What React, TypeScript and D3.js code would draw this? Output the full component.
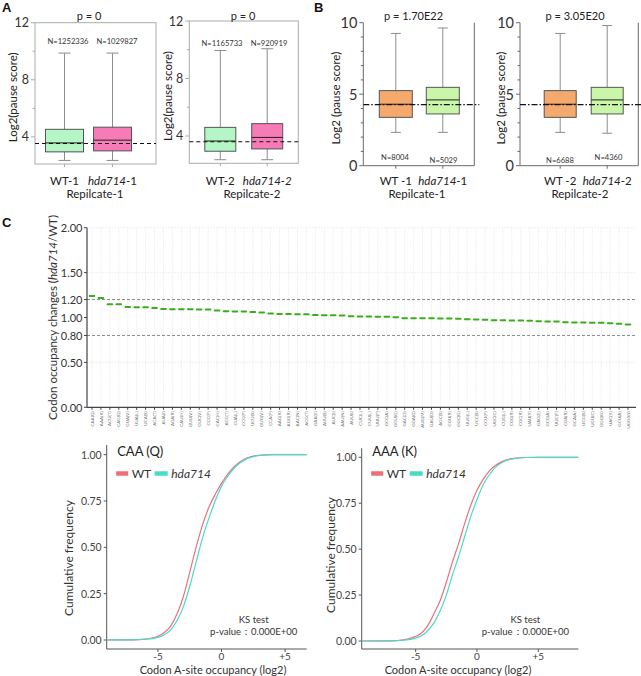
import React from "react";
import * as d3 from "d3";

const FONT = "Lato, 'Open Sans', 'Liberation Sans', Arial, sans-serif";

type Part = [string, boolean];

// ---------------- Panel A data ----------------
const aRep1Groups = ["WT-1", "hda714-1"];
const aRep1Labels: Part[][] = [[["WT-1", false]], [["hda714", true], ["-1", false]]];
const aRep1Stats = [
  [2.35, 2.95, 3.58, 4.53, 9.87],
  [2.35, 3.02, 3.77, 4.68, 9.87],
];
const aRep1N = ["N=1252336", "N=1029827"];
const aRep1Ref = 3.54;

const aRep2Groups = ["WT-2", "hda714-2"];
const aRep2Labels: Part[][] = [[["WT-2", false]], [["hda714-2", true]]];
const aRep2Stats = [
  [2.35, 2.94, 3.65, 4.6, 9.95],
  [2.35, 3.1, 3.9, 4.86, 10.07],
];
const aRep2N = ["N=1165733", "N=920919"];
const aRep2Ref = 3.6;

const aTicks = [4, 8, 12];
const aMinorTicks = [6, 10];

// ---------------- Panel B data ----------------
const bRep1Groups = ["WT -1", "hda714-1"];
const bRep1Labels: Part[][] = [[["WT -1", false]], [["hda714", true], ["-1", false]]];
const bRep1Stats = [
  [2.33, 3.38, 4.3, 5.25, 9.25],
  [2.33, 3.62, 4.6, 5.48, 9.63],
];
const bRep1N = ["N=8004", "N=5029"];
const bRep1Ref = 4.27;

const bRep2Groups = ["WT -2", "hda714-2"];
const bRep2Labels: Part[][] = [[["WT -2", false]], [["hda714", true], ["-2", false]]];
const bRep2Stats = [
  [2.33, 3.38, 4.3, 5.25, 9.25],
  [2.27, 3.62, 4.6, 5.48, 9.8],
];
const bRep2N = ["N=6688", "N=4360"];
const bRep2Ref = 4.27;

const bTicks = [0, 5, 10];
const bMinorTicks = [1, 2, 3, 4, 6, 7, 8, 9];

// ---------------- Panel C data ----------------
const codons = [
  "CAA(Q)", "AAA(K)", "ACU(T)", "CAG(Q)", "GUA(V)", "UUA(L)", "UCA(S)", "ACA(T)", "AUA(I)", "AGA(R)",
  "CAU(H)", "GUU(V)", "GUC(V)", "CCC(P)", "CAC(H)", "ACC(T)", "CUA(L)", "CCG(P)", "UCU(S)", "GUG(V)",
  "CCA(P)", "AAG(K)", "AGG(R)", "AAC(N)", "ACG(T)", "GAA(E)", "AGU(S)", "AUC(I)", "AAU(N)", "AUU(I)",
  "CUC(L)", "CUU(L)", "UUU(F)", "GCC(A)", "GGU(G)", "GAC(D)", "GGA(G)", "AUG(M)", "GAU(D)", "AGC(S)",
  "CGU(R)", "GGC(G)", "UUG(L)", "UCC(S)", "CCU(P)", "UGC(C)", "CUG(L)", "CGG(R)", "CGC(R)", "UAU(Y)",
  "GAG(E)", "GCG(A)", "UUC(F)", "CGA(R)", "GCA(A)", "UCG(S)", "UGU(C)", "GGG(G)", "UAC(Y)", "GCU(A)",
  "UGG(W)",
];
const codonChange = [
  1.239, 1.217, 1.147, 1.147, 1.118, 1.114, 1.114, 1.107, 1.096, 1.092,
  1.092, 1.092, 1.088, 1.088, 1.077, 1.07, 1.066, 1.066, 1.062, 1.055,
  1.044, 1.04, 1.04, 1.036, 1.036, 1.029, 1.025, 1.025, 1.022, 1.014,
  1.011, 1.011, 1.007, 1.007, 1.003, 0.992, 0.992, 0.992, 0.992, 0.989,
  0.989, 0.985, 0.981, 0.978, 0.974, 0.97, 0.97, 0.967, 0.967, 0.963,
  0.959, 0.956, 0.956, 0.948, 0.945, 0.945, 0.941, 0.941, 0.937, 0.93,
  0.922,
];
const cTicks = [0, 0.5, 0.8, 1.0, 1.2, 1.5, 2.0];
const cGridTicks = [0.5, 1.5, 2.0];
const cRefLines = [0.8, 1.2];

// ---------------- CDF data ----------------
const caaX = [-9.03, -7, -6, -5, -4.5, -4, -3.5, -3, -2.5, -2, -1.5, -1, -0.5, 0, 0.5, 1, 1.5, 2, 2.5, 3, 4, 5, 6.7];
const caaWT = [0, 0.001, 0.005, 0.02, 0.04, 0.075, 0.14, 0.235, 0.365, 0.5, 0.62, 0.715, 0.785, 0.845, 0.895, 0.935, 0.963, 0.982, 0.992, 0.997, 1, 1, 1];
const caaMut = [0, 0.001, 0.004, 0.014, 0.028, 0.055, 0.105, 0.18, 0.29, 0.42, 0.55, 0.655, 0.75, 0.83, 0.885, 0.928, 0.958, 0.979, 0.99, 0.996, 1, 1, 1];

const aaaX = [-9.4, -7, -6, -5, -4.5, -4, -3.5, -3, -2.5, -2, -1.5, -1, -0.5, 0, 0.5, 1, 1.5, 2, 2.5, 3, 4, 5, 8.26];
const aaaWT = [0, 0.001, 0.006, 0.025, 0.045, 0.085, 0.15, 0.22, 0.32, 0.43, 0.53, 0.64, 0.74, 0.82, 0.88, 0.925, 0.955, 0.975, 0.987, 0.994, 0.999, 1, 1];
const aaaMut = [0, 0.001, 0.004, 0.016, 0.03, 0.057, 0.1, 0.165, 0.25, 0.36, 0.46, 0.57, 0.68, 0.77, 0.85, 0.905, 0.945, 0.97, 0.985, 0.993, 0.999, 1, 1];

const cdfYTicks = [0, 0.25, 0.5, 0.75, 1];
const cdfYTickLabels = ["0.00", "0.25", "0.50", "0.75", "1.00"];
const cdfXTicks = [-5, 0, 5];
const cdfXTickLabels = ["-5", "0", "+5"];

const renderParts = (parts: Part[]) =>
  parts.map(([t, it], i) => (
    <tspan key={i} fontStyle={it ? "italic" : "normal"}>
      {t}
    </tspan>
  ));

type Frame = { left: number; right: number; top: number; bottom: number };

function BoxPanel(props: any) {
  const {
    groups, labels, stats, ns, refValue, pText, pX, repText, repX, frame, domain, ticks, minor,
    centers, boxW, capW, variant, fills, yLabel, yLabelX, nX, nY, tickFont,
  } = props;
  const f: Frame = frame;
  const y = d3.scaleLinear().domain(domain).range([f.bottom, f.top]);
  const x = d3.scalePoint<string>().domain(groups).range(centers);
  const isA = variant === "A";
  const axisColor = isA ? "#a5b0a7" : "#6a6a6a";
  const whiskerColor = "#8c8c8c";
  return (
    <g fontFamily={FONT}>
      {isA ? (
        <rect x={f.left} y={f.top} width={f.right - f.left} height={f.bottom - f.top} fill="none" stroke={axisColor} strokeWidth={1} />
      ) : (
        <path d={`M${f.left},${f.top}V${f.bottom}H${f.right}V${f.top}`} fill="none" stroke={axisColor} strokeWidth={1} />
      )}
      {ticks.map((t: number) => (
        <g key={"t" + t}>
          <line x1={f.left - 4} x2={f.left} y1={y(t)} y2={y(t)} stroke={axisColor} />
          <text x={f.left - 6} y={y(t)} textAnchor="end" dominantBaseline="central" fontSize={tickFont} fill="#333">
            {t}
          </text>
        </g>
      ))}
      {minor.map((t: number) => (
        <line key={"m" + t} x1={f.left - 2.5} x2={f.left} y1={y(t)} y2={y(t)} stroke={axisColor} />
      ))}
      {groups.map((g: string, i: number) => {
        const cx = x(g) as number;
        const [mn, q1, md, q3, mx] = stats[i];
        return (
          <g key={g}>
            <line x1={cx} x2={cx} y1={y(mx)} y2={y(q3)} stroke={whiskerColor} />
            <line x1={cx} x2={cx} y1={y(q1)} y2={y(mn)} stroke={whiskerColor} />
            <line x1={cx - capW / 2} x2={cx + capW / 2} y1={y(mx)} y2={y(mx)} stroke={whiskerColor} />
            <line x1={cx - capW / 2} x2={cx + capW / 2} y1={y(mn)} y2={y(mn)} stroke={whiskerColor} />
            <rect x={cx - boxW / 2} y={y(q3)} width={boxW} height={y(q1) - y(q3)} fill={fills[i]} stroke="#555" strokeWidth={1} />
            <line x1={cx - boxW / 2} x2={cx + boxW / 2} y1={y(md)} y2={y(md)} stroke="#222" strokeWidth={1} />
            <line x1={cx} x2={cx} y1={f.bottom} y2={f.bottom + 3} stroke={axisColor} />
            <text x={cx} y={180} textAnchor="middle" dominantBaseline="central" fontSize={11.5} fill="#222">
              {renderParts(labels[i])}
            </text>
            <text x={nX[i]} y={nY[i]} textAnchor="middle" dominantBaseline="central" fontSize={7.6} fill="#333">
              {ns[i]}
            </text>
          </g>
        );
      })}
      <line
        x1={f.left}
        x2={isA ? f.right : f.right + 5}
        y1={y(refValue)}
        y2={y(refValue)}
        stroke="#111"
        strokeWidth={1.1}
        strokeDasharray={isA ? "4,3" : "6,2,1.5,2"}
      />
      <text x={pX} y={15} textAnchor="middle" dominantBaseline="central" fontSize={11} fill="#222">
        {pText}
      </text>
      <text x={repX} y={193.5} textAnchor="middle" dominantBaseline="central" fontSize={11.5} fill="#222">
        {repText}
      </text>
      <text
        transform={`translate(${yLabelX},${(f.top + f.bottom) / 2 + 4}) rotate(-90)`}
        textAnchor="middle"
        dominantBaseline="central"
        fontSize={11.5}
        fill="#222"
      >
        {yLabel}
      </text>
    </g>
  );
}

function CodonPanel() {
  const y = d3.scaleLinear().domain([0, 2]).range([407.3, 227.7]);
  const x = d3.scalePoint<string>().domain(codons).range([92, 628]);
  const left = 87;
  const right = 636;
  return (
    <g fontFamily={FONT}>
      {codons.map((c) => (
        <line key={"g" + c} x1={x(c)} x2={x(c)} y1={y(2)} y2={y(0)} stroke="#ececec" strokeWidth={0.8} strokeDasharray="2,1" />
      ))}
      {cGridTicks.map((t) => (
        <line key={"h" + t} x1={left} x2={right} y1={y(t)} y2={y(t)} stroke="#ececec" strokeWidth={0.8} strokeDasharray="2,1" />
      ))}
      {cRefLines.map((t) => (
        <line key={"r" + t} x1={left} x2={right} y1={y(t)} y2={y(t)} stroke="#8a8a8a" strokeWidth={1} strokeDasharray="3,2" />
      ))}
      <line x1={left} x2={left} y1={y(2)} y2={y(0)} stroke="#444" strokeWidth={1.2} />
      <line x1={left} x2={right} y1={y(0)} y2={y(0)} stroke="#444" strokeWidth={1.2} />
      {cTicks.map((t) => (
        <g key={"ct" + t}>
          <line x1={left - 3} x2={left} y1={y(t)} y2={y(t)} stroke="#444" />
          <text x={left - 4.5} y={y(t)} textAnchor="end" dominantBaseline="central" fontSize={11} fill="#333">
            {t.toFixed(2)}
          </text>
        </g>
      ))}
      {codons.map((c, i) => (
        <g key={c}>
          <line x1={x(c)} x2={x(c)} y1={y(0)} y2={y(0) + 2.5} stroke="#444" />
          <text
            transform={`translate(${(x(c) as number) + 1.6},${y(0) + 4}) rotate(-90)`}
            textAnchor="end"
            fontSize={4.6}
            fill="#666"
          >
            {c}
          </text>
          <line
            x1={(x(c) as number) - 2.3}
            x2={(x(c) as number) + 2.3}
            y1={y(codonChange[i])}
            y2={y(codonChange[i])}
            stroke="#3aad1c"
            strokeWidth={2}
            strokeLinecap="round"
          />
        </g>
      ))}
      <text transform={`translate(52,${(y(2) + y(0)) / 2}) rotate(-90)`} textAnchor="middle" dominantBaseline="central" fontSize={11.5} fill="#333">
        <tspan>Codon occupancy changes (</tspan>
        <tspan fontStyle="italic">hda714</tspan>
        <tspan>/WT)</tspan>
      </text>
    </g>
  );
}

function CdfPanel(props: any) {
  const { xRange, xDomain, yBase, yOne, axisTop, axisBottom, xs, wt, mut, title, yLabelX, yLabelY, xLabelX } = props;
  const x = d3.scaleLinear().domain(xDomain).range(xRange);
  const y = d3.scaleLinear().domain([0, 1]).range([yBase, yOne]);
  const line = d3
    .line<number>()
    .x((_, i) => x(xs[i]))
    .y((d) => y(d))
    .curve(d3.curveMonotoneX);
  const x0 = xRange[0];
  const x1 = xRange[1];
  const red = "#ef6f78";
  const cyan = "#45dcc8";
  return (
    <g fontFamily={FONT}>
      <line x1={x0} x2={x0} y1={axisTop} y2={axisBottom} stroke="#555" />
      <line x1={x0} x2={x1} y1={axisBottom} y2={axisBottom} stroke="#555" />
      {cdfYTicks.map((t, i) => (
        <g key={"y" + t}>
          <line x1={x0 - 3} x2={x0} y1={y(t)} y2={y(t)} stroke="#555" />
          <text x={x0 - 5} y={y(t)} textAnchor="end" dominantBaseline="central" fontSize={10.5} fill="#444">
            {cdfYTickLabels[i]}
          </text>
        </g>
      ))}
      {cdfXTicks.map((t, i) => (
        <g key={"x" + t}>
          <line x1={x(t)} x2={x(t)} y1={axisBottom} y2={axisBottom + 3} stroke="#555" />
          <text x={x(t)} y={axisBottom + 6.5} textAnchor="middle" dominantBaseline="central" fontSize={10} fill="#444">
            {cdfXTickLabels[i]}
          </text>
        </g>
      ))}
      <path d={line(wt) || ""} fill="none" stroke={red} strokeWidth={1.2} />
      <path d={line(mut) || ""} fill="none" stroke={cyan} strokeWidth={1.2} />
      <text x={x0 + 10.5} y={451} dominantBaseline="central" fontSize={13} fill="#222">
        {title}
      </text>
      <line x1={x0 + 9.5} x2={x0 + 21.5} y1={473.5} y2={473.5} stroke={red} strokeWidth={4.5} />
      <text x={x0 + 25} y={473.5} dominantBaseline="central" fontSize={12} fill="#333">
        WT
      </text>
      <line x1={x0 + 48} x2={x0 + 61} y1={473.5} y2={473.5} stroke={cyan} strokeWidth={4.5} />
      <text x={x0 + 64.5} y={473.5} dominantBaseline="central" fontSize={12} fontStyle="italic" fill="#333">
        hda714
      </text>
      <text x={x1 - 53} y={619} textAnchor="middle" dominantBaseline="central" fontSize={9.5} fill="#333">
        KS test
      </text>
      <text x={x1 - 53} y={631.5} textAnchor="middle" dominantBaseline="central" fontSize={9.5} fill="#333">
        p-value：0.000E+00
      </text>
      <text x={xLabelX} y={669.5} textAnchor="middle" dominantBaseline="central" fontSize={11} fill="#333">
        Codon A-site occupancy (log2)
      </text>
      <text transform={`translate(${yLabelX},${yLabelY}) rotate(-90)`} textAnchor="middle" dominantBaseline="central" fontSize={12} fill="#333">
        Cumulative frequency
      </text>
    </g>
  );
}

export default function App() {
  return (
    <svg
      width={641}
      height={676}
      viewBox="0 0 641 676"
      style={{ position: "absolute", left: 0, top: 0, background: "#fff", display: "block" }}
    >
      <rect x={0} y={0} width={641} height={676} fill="#fff" />
      <g fontFamily="Arial, 'Liberation Sans', sans-serif" fontWeight="bold" fontSize={13} fill="#111">
        <text x={2} y={12}>A</text>
        <text x={314} y={12}>B</text>
        <text x={2} y={227}>C</text>
      </g>
      <BoxPanel
        variant="A"
        groups={aRep1Groups}
        labels={aRep1Labels}
        stats={aRep1Stats}
        ns={aRep1N}
        refValue={aRep1Ref}
        pText="p = 0"
        pX={89}
        repText="Repilcate-1"
        repX={95}
        frame={{ left: 35, right: 156, top: 22.7, bottom: 164 }}
        domain={[2.1, 12]}
        ticks={aTicks}
        minor={aMinorTicks}
        centers={[64.5, 112.5]}
        boxW={38}
        capW={12}
        fills={["#b4f6c6", "#f67bb6"]}
        yLabel="Log2(pause score)"
        yLabelX={12.5}
        nX={[68, 117]}
        nY={[41, 41]}
        tickFont={12.5}
      />
      <BoxPanel
        variant="A"
        groups={aRep2Groups}
        labels={aRep2Labels}
        stats={aRep2Stats}
        ns={aRep2N}
        refValue={aRep2Ref}
        pText="p = 0"
        pX={243}
        repText="Repilcate-2"
        repX={252}
        frame={{ left: 189.3, right: 298.3, top: 21, bottom: 163.3 }}
        domain={[2.1, 12]}
        ticks={aTicks}
        minor={aMinorTicks}
        centers={[220.3, 267.2]}
        boxW={31}
        capW={12}
        fills={["#b4f6c6", "#f67bb6"]}
        yLabel="Log2(pause score)"
        yLabelX={167}
        nX={[222, 269]}
        nY={[42.5, 42.5]}
        tickFont={12.5}
      />
      <BoxPanel
        variant="B"
        groups={bRep1Groups}
        labels={bRep1Labels}
        stats={bRep1Stats}
        ns={bRep1N}
        refValue={bRep1Ref}
        pText="p = 1.70E22"
        pX={413.5}
        repText="Repilcate-1"
        repX={417}
        frame={{ left: 363.3, right: 474.3, top: 22.7, bottom: 165.7 }}
        domain={[0, 10]}
        ticks={bTicks}
        minor={bMinorTicks}
        centers={[395.8, 442.8]}
        boxW={33}
        capW={10}
        fills={["#f6a96c", "#c9f6a8"]}
        yLabel="Log2 (pause score)"
        yLabelX={335}
        nX={[395, 443.5]}
        nY={[156.5, 159.5]}
        tickFont={14.5}
      />
      <BoxPanel
        variant="B"
        groups={bRep2Groups}
        labels={bRep2Labels}
        stats={bRep2Stats}
        ns={bRep2N}
        refValue={bRep2Ref}
        pText="p = 3.05E20"
        pX={575}
        repText="Repilcate-2"
        repX={580}
        frame={{ left: 520, right: 638.3, top: 22.7, bottom: 165.7 }}
        domain={[0, 10]}
        ticks={bTicks}
        minor={bMinorTicks}
        centers={[560.2, 607.2]}
        boxW={32}
        capW={10}
        fills={["#f6a96c", "#c9f6a8"]}
        yLabel="Log2 (pause score)"
        yLabelX={500}
        nX={[560, 608.5]}
        nY={[160, 157]}
        tickFont={14.5}
      />
      <CodonPanel />
      <CdfPanel
        xRange={[106.7, 306.7]}
        xDomain={[-9.03, 6.7]}
        yBase={640}
        yOne={454.7}
        axisTop={445}
        axisBottom={649}
        xs={caaX}
        wt={caaWT}
        mut={caaMut}
        title="CAA (Q)"
        yLabelX={68}
        yLabelY={558}
        xLabelX={213}
      />
      <CdfPanel
        xRange={[361.7, 578.3]}
        xDomain={[-9.4, 8.26]}
        yBase={641}
        yOne={457.3}
        axisTop={448.3}
        axisBottom={649}
        xs={aaaX}
        wt={aaaWT}
        mut={aaaMut}
        title="AAA (K)"
        yLabelX={330}
        yLabelY={555}
        xLabelX={458}
      />
    </svg>
  );
}
